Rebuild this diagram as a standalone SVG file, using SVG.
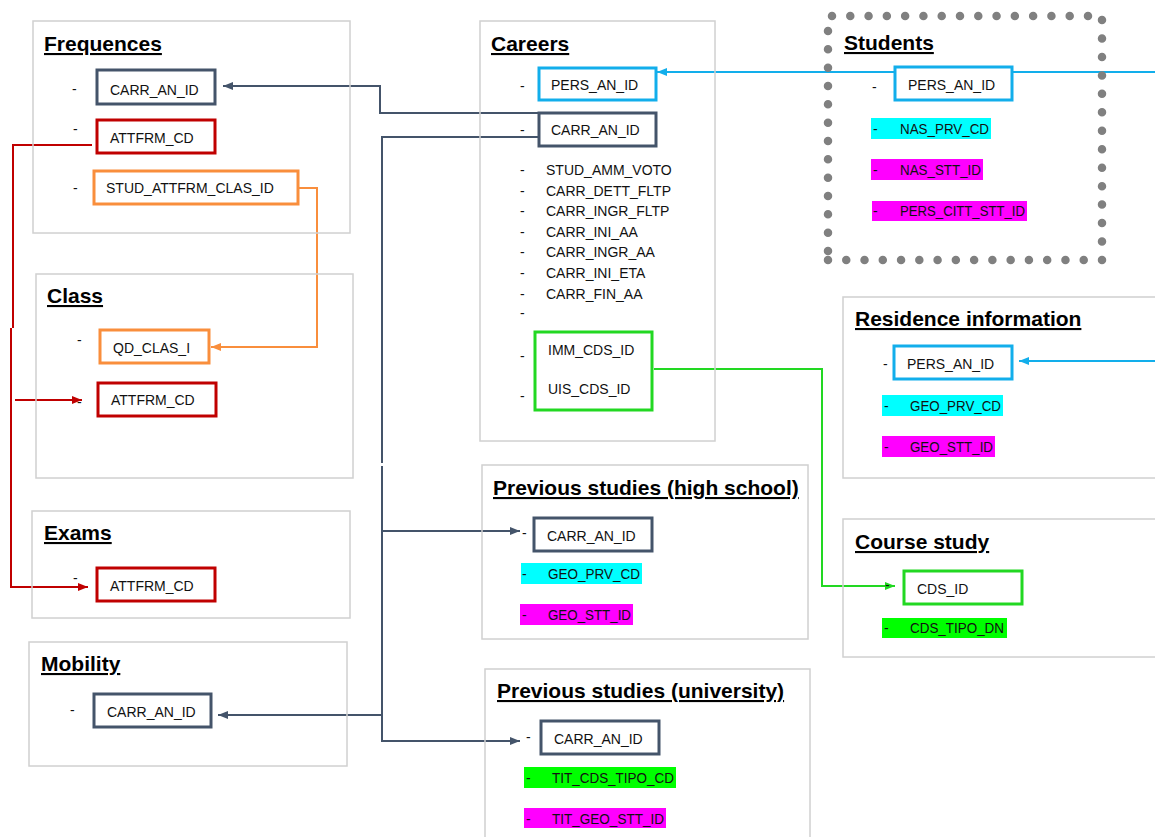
<svg xmlns="http://www.w3.org/2000/svg" width="1155" height="837" viewBox="0 0 1155 837">
  <style>
    .panel { fill: none; stroke: #D0D0D0; stroke-width: 1.5; }
    .title { font-family: "Liberation Sans", Arial, sans-serif; font-size: 21px; font-weight: bold; fill: #000; text-decoration: underline; }
    .txt { font-family: "Liberation Sans", Arial, sans-serif; font-size: 14px; fill: #111; }
    .key { fill: #fff; stroke-width: 3; }
    .slate { stroke: #44546A; }
    .red { stroke: #C00000; }
    .orange { stroke: #F98E3C; }
    .blue { stroke: #12AEEB; }
    .green { stroke: #22D822; }
    .hl-cyan { fill: #00FFFF; }
    .hl-mag { fill: #FF00FF; }
    .hl-green { fill: #00FF00; }
    .conn { fill: none; stroke-width: 2; }
    .dots { fill: none; stroke: #808080; stroke-width: 8.5; stroke-linecap: round; }
  </style>
  <defs>
    <marker id="arr-slate" viewBox="0 0 10 8" refX="10" refY="4" markerWidth="10" markerHeight="8" markerUnits="userSpaceOnUse" orient="auto">
      <path d="M0,0 L10,4 L0,8 z" fill="#44546A"/>
    </marker>
    <marker id="arr-red" viewBox="0 0 10 8" refX="10" refY="4" markerWidth="10" markerHeight="8" markerUnits="userSpaceOnUse" orient="auto">
      <path d="M0,0 L10,4 L0,8 z" fill="#C00000"/>
    </marker>
    <marker id="arr-orange" viewBox="0 0 10 8" refX="10" refY="4" markerWidth="10" markerHeight="8" markerUnits="userSpaceOnUse" orient="auto">
      <path d="M0,0 L10,4 L0,8 z" fill="#F98E3C"/>
    </marker>
    <marker id="arr-blue" viewBox="0 0 10 8" refX="10" refY="4" markerWidth="10" markerHeight="8" markerUnits="userSpaceOnUse" orient="auto">
      <path d="M0,0 L10,4 L0,8 z" fill="#12AEEB"/>
    </marker>
    <marker id="arr-green" viewBox="0 0 10 8" refX="10" refY="4" markerWidth="10" markerHeight="8" markerUnits="userSpaceOnUse" orient="auto">
      <path d="M0,0 L10,4 L0,8 z" fill="#22D822"/>
    </marker>
  </defs>

  <rect width="1155" height="837" fill="#fff"/>

  <!-- connectors -->
  <g id="connectors">
    <!-- career id fan-out -->
    <path class="conn slate" d="M538,113 H380 V86 H223" marker-end="url(#arr-slate)"/>
    <path class="conn slate" d="M538,137 H382 V463"/>
    <path class="conn slate" d="M382,466 V741 H520" marker-end="url(#arr-slate)"/>
    <path class="conn slate" d="M382,531 H520" marker-end="url(#arr-slate)"/>
    <path class="conn slate" d="M382,715 H218" marker-end="url(#arr-slate)"/>
    <!-- attfrm code -->
    <path class="conn red" d="M92,145 H13 V328"/>
    <path class="conn red" d="M11,328 V587 H88" marker-end="url(#arr-red)"/>
    <path class="conn red" d="M15,400 H82" marker-end="url(#arr-red)"/>
    <!-- class id -->
    <path class="conn orange" d="M299,188 H317 V347 H211" marker-end="url(#arr-orange)"/>
    <!-- course id -->
    <path class="conn green" d="M654,369 H822 V586 H895" marker-end="url(#arr-green)"/>
    <!-- person id -->
    <path class="conn blue" d="M1155,72 H657" stroke-width="1.6" marker-end="url(#arr-blue)"/>
    <path class="conn blue" d="M1155,361 H1019" stroke-width="1.6" marker-end="url(#arr-blue)"/>
  </g>

  <!-- Frequences -->
  <g id="frequences">
    <rect class="panel" x="33" y="21" width="317" height="212"/>
    <text class="title" x="44" y="51">Frequences</text>
    <text class="txt" x="72" y="94">-</text>
    <rect class="key slate" x="97" y="70" width="118" height="34"/>
    <text class="txt" x="110" y="95">CARR_AN_ID</text>
    <text class="txt" x="73" y="134">-</text>
    <rect class="key red" x="97" y="120" width="118" height="33"/>
    <text class="txt" x="110" y="143">ATTFRM_CD</text>
    <text class="txt" x="73" y="193">-</text>
    <rect class="key orange" x="94" y="171" width="204" height="33"/>
    <text class="txt" x="106" y="193">STUD_ATTFRM_CLAS_ID</text>
  </g>

  <!-- Class -->
  <g id="class">
    <rect class="panel" x="36" y="274" width="317" height="204"/>
    <text class="title" x="47" y="303">Class</text>
    <text class="txt" x="77" y="345">-</text>
    <rect class="key orange" x="100" y="330" width="109" height="33"/>
    <text class="txt" x="113" y="353">QD_CLAS_I</text>
    <text class="txt" x="77" y="407">-</text>
    <rect class="key red" x="98" y="383" width="118" height="33"/>
    <text class="txt" x="111" y="405">ATTFRM_CD</text>
  </g>

  <!-- Exams -->
  <g id="exams">
    <rect class="panel" x="32" y="511" width="318" height="107"/>
    <text class="title" x="44" y="540">Exams</text>
    <text class="txt" x="73" y="583">-</text>
    <rect class="key red" x="97" y="568" width="118" height="33"/>
    <text class="txt" x="110" y="591">ATTFRM_CD</text>
  </g>

  <!-- Mobility -->
  <g id="mobility">
    <rect class="panel" x="29" y="642" width="318" height="124"/>
    <text class="title" x="41" y="671">Mobility</text>
    <text class="txt" x="70" y="715">-</text>
    <rect class="key slate" x="94" y="694" width="117" height="33"/>
    <text class="txt" x="107" y="717">CARR_AN_ID</text>
  </g>

  <!-- Careers -->
  <g id="careers">
    <rect class="panel" x="480" y="21" width="235" height="420"/>
    <text class="title" x="491" y="51">Careers</text>
    <text class="txt" x="520" y="91">-</text>
    <rect class="key blue" x="539" y="68" width="117" height="32"/>
    <text class="txt" x="551" y="90">PERS_AN_ID</text>
    <text class="txt" x="520" y="135">-</text>
    <rect class="key slate" x="539" y="113" width="117" height="33"/>
    <text class="txt" x="551" y="135">CARR_AN_ID</text>
    <text class="txt" x="520" y="175">-</text>
    <text class="txt" x="546" y="175">STUD_AMM_VOTO</text>
    <text class="txt" x="520" y="196">-</text>
    <text class="txt" x="546" y="196">CARR_DETT_FLTP</text>
    <text class="txt" x="520" y="216">-</text>
    <text class="txt" x="546" y="216">CARR_INGR_FLTP</text>
    <text class="txt" x="520" y="237">-</text>
    <text class="txt" x="546" y="237">CARR_INI_AA</text>
    <text class="txt" x="520" y="257">-</text>
    <text class="txt" x="546" y="257">CARR_INGR_AA</text>
    <text class="txt" x="520" y="278">-</text>
    <text class="txt" x="546" y="278">CARR_INI_ETA</text>
    <text class="txt" x="520" y="299">-</text>
    <text class="txt" x="546" y="299">CARR_FIN_AA</text>
    <text class="txt" x="520" y="318">-</text>
    <text class="txt" x="520" y="361">-</text>
    <text class="txt" x="520" y="401">-</text>
    <rect class="key green" x="535" y="332" width="117" height="78"/>
    <text class="txt" x="548" y="355">IMM_CDS_ID</text>
    <text class="txt" x="548" y="394">UIS_CDS_ID</text>
  </g>

  <!-- Students -->
  <g id="students">
    <path class="dots" d="M832,16 H1088" stroke-dasharray="0 18.2857"/>
    <path class="dots" d="M1102,20 V260" stroke-dasharray="0 18.4615"/>
    <path class="dots" d="M828,260 H1102" stroke-dasharray="0 18.2667"/>
    <path class="dots" d="M828,31 V251" stroke-dasharray="0 18.3333"/>
    <text class="title" x="844" y="50">Students</text>
    <text class="txt" x="872" y="92">-</text>
    <rect class="key blue" x="895" y="67" width="117" height="33"/>
    <text class="txt" x="908" y="90">PERS_AN_ID</text>
    <rect class="hl-cyan" x="871" y="118" width="120" height="21"/>
    <text class="txt" x="873" y="134">-</text>
    <text class="txt" x="900" y="134" textLength="89" lengthAdjust="spacingAndGlyphs">NAS_PRV_CD</text>
    <rect class="hl-mag" x="871" y="159" width="112" height="21"/>
    <text class="txt" x="873" y="175">-</text>
    <text class="txt" x="900" y="175" textLength="81" lengthAdjust="spacingAndGlyphs">NAS_STT_ID</text>
    <rect class="hl-mag" x="872" y="201" width="155" height="20"/>
    <text class="txt" x="873" y="216">-</text>
    <text class="txt" x="900" y="216" textLength="125" lengthAdjust="spacingAndGlyphs">PERS_CITT_STT_ID</text>
  </g>

  <!-- Residence information -->
  <g id="residence">
    <rect class="panel" x="843" y="297" width="320" height="181"/>
    <text class="title" x="855" y="326">Residence information</text>
    <text class="txt" x="883" y="369">-</text>
    <rect class="key blue" x="894" y="346" width="118" height="33"/>
    <text class="txt" x="907" y="369">PERS_AN_ID</text>
    <rect class="hl-cyan" x="882" y="395" width="121" height="21"/>
    <text class="txt" x="884" y="411">-</text>
    <text class="txt" x="910" y="411" textLength="91" lengthAdjust="spacingAndGlyphs">GEO_PRV_CD</text>
    <rect class="hl-mag" x="882" y="436" width="113" height="21"/>
    <text class="txt" x="884" y="452">-</text>
    <text class="txt" x="910" y="452" textLength="83" lengthAdjust="spacingAndGlyphs">GEO_STT_ID</text>
  </g>

  <!-- Course study -->
  <g id="course-study">
    <rect class="panel" x="843" y="519" width="320" height="138"/>
    <text class="title" x="855" y="549">Course study</text>
    <text class="txt" x="885" y="590">-</text>
    <rect class="key green" x="904" y="571" width="118" height="33"/>
    <text class="txt" x="917" y="594">CDS_ID</text>
    <rect class="hl-green" x="882" y="618" width="125" height="20"/>
    <text class="txt" x="884" y="633">-</text>
    <text class="txt" x="910" y="633" textLength="94" lengthAdjust="spacingAndGlyphs">CDS_TIPO_DN</text>
  </g>

  <!-- Previous studies (high school) -->
  <g id="prev-high-school">
    <rect class="panel" x="482" y="465" width="326" height="174"/>
    <text class="title" x="493" y="495">Previous studies (high school)</text>
    <text class="txt" x="522" y="538">-</text>
    <rect class="key slate" x="534" y="518" width="118" height="33"/>
    <text class="txt" x="547" y="541">CARR_AN_ID</text>
    <rect class="hl-cyan" x="521" y="563" width="121" height="21"/>
    <text class="txt" x="522" y="579">-</text>
    <text class="txt" x="548" y="579" textLength="92" lengthAdjust="spacingAndGlyphs">GEO_PRV_CD</text>
    <rect class="hl-mag" x="520" y="604" width="113" height="21"/>
    <text class="txt" x="522" y="620">-</text>
    <text class="txt" x="548" y="620" textLength="83" lengthAdjust="spacingAndGlyphs">GEO_STT_ID</text>
  </g>

  <!-- Previous studies (university) -->
  <g id="prev-university">
    <rect class="panel" x="485" y="669" width="325" height="200"/>
    <text class="title" x="497" y="698">Previous studies (university)</text>
    <text class="txt" x="526" y="742">-</text>
    <rect class="key slate" x="541" y="721" width="118" height="33"/>
    <text class="txt" x="554" y="744">CARR_AN_ID</text>
    <rect class="hl-green" x="524" y="767" width="152" height="21"/>
    <text class="txt" x="526" y="783">-</text>
    <text class="txt" x="552" y="783" textLength="122" lengthAdjust="spacingAndGlyphs">TIT_CDS_TIPO_CD</text>
    <rect class="hl-mag" x="524" y="808" width="142" height="20"/>
    <text class="txt" x="526" y="824">-</text>
    <text class="txt" x="552" y="824" textLength="112" lengthAdjust="spacingAndGlyphs">TIT_GEO_STT_ID</text>
  </g>
</svg>
